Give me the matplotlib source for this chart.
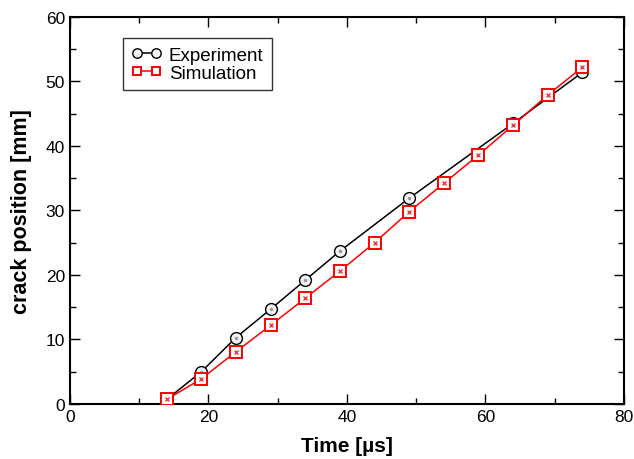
import numpy as np
import matplotlib
matplotlib.use('Agg')
import matplotlib.pyplot as plt
from matplotlib.ticker import MultipleLocator

plt.rcParams['font.family'] = ['Liberation Sans', 'DejaVu Sans']

# data
exp_t = [14, 19, 24, 29, 34, 39, 49, 64, 74]
exp_pos = [0.7, 5.0, 10.3, 14.7, 19.2, 23.7, 31.9, 43.5, 51.4]
sim_t = [14, 19, 24, 29, 34, 39, 44, 49, 54, 59, 64, 69, 74]
sim_pos = [0.7, 3.9, 8.1, 12.2, 16.4, 20.6, 25.0, 29.8, 34.2, 38.6, 43.2, 47.9, 52.2]

fig = plt.figure(figsize=(6.34, 4.6), dpi=100)
ax = fig.add_axes([0.110, 0.1196, 0.874, 0.8413])

ax.plot(exp_t, exp_pos, color='black', lw=1.1, marker='o', ms=8.5,
        mfc='#f2f2f2', mec='black', mew=1.0, label='Experiment', zorder=3)
ax.plot(exp_t, exp_pos, ls='none', marker='.', ms=3, color='#9a9a9a', zorder=4)
ax.plot(sim_t, sim_pos, color='red', lw=1.1, marker='s', ms=8,
        mfc='white', mec='red', mew=1.4, label='Simulation', zorder=5)
ax.plot(sim_t, sim_pos, ls='none', marker='x', ms=3.5, mew=1.0, color='#e04040', zorder=6)

ax.set_xlim(0, 80)
ax.set_ylim(0, 60)
ax.xaxis.set_major_locator(MultipleLocator(20))
ax.xaxis.set_minor_locator(MultipleLocator(10))
ax.yaxis.set_major_locator(MultipleLocator(10))
ax.yaxis.set_minor_locator(MultipleLocator(5))
ax.tick_params(which='both', direction='in', top=True, right=True, labelsize=12.5, width=1.0)
ax.tick_params(which='major', length=7)
ax.tick_params(which='minor', length=4)
for s in ax.spines.values():
    s.set_linewidth(1.5)

ax.set_xlabel('Time [\u00b5s]', fontsize=15, fontweight='bold', labelpad=9)
ax.set_ylabel('crack position [mm]', fontsize=15.5, fontweight='bold', labelpad=10)

handles, labels = ax.get_legend_handles_labels()
leg = ax.legend(handles, labels, loc='upper left', bbox_to_anchor=(0.096, 0.945),
                fontsize=13.5, frameon=True, fancybox=False, edgecolor='black',
                numpoints=2, markerscale=0.8, handlelength=1.6,
                handletextpad=0.4, borderpad=0.45, labelspacing=0.05, borderaxespad=0)
leg.get_frame().set_linewidth(1.0)

fig.savefig('out.png', dpi=100)
